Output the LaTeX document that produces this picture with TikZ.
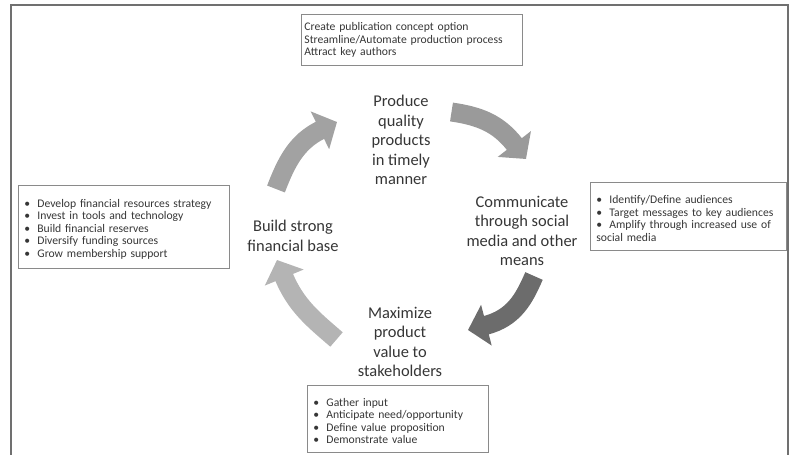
\documentclass[tikz,border=0pt]{standalone}
\usepackage{fontspec}
\setmainfont{Carlito}
\usepackage{tikz}
\usetikzlibrary{arrows.meta}
\definecolor{framegray}{HTML}{707070}
\definecolor{boxgray}{HTML}{8A8A8A}
\definecolor{inkgray}{HTML}{363636}
\definecolor{flowA}{HTML}{A2A2A2}
\definecolor{flowB}{HTML}{9A9A9A}
\definecolor{flowC}{HTML}{6C6C6C}
\definecolor{flowD}{HTML}{B4B4B4}
\hyphenpenalty=10000
\newcommand{\bul}[1]{\par\noindent\hangindent=13bp\hangafter=1\makebox[13bp][l]{\textbullet}#1}
\tikzset{
    strategy cycle/.style={
            x=1bp,y=-1bp,
            goal/.style={align=center,text=inkgray,font=\fontsize{16.5}{19.5}\selectfont},
            tasks/.style={draw=boxgray,line width=0.8bp,anchor=north west,align=left,
                    inner xsep=6bp,inner ysep=3bp,text=inkgray,font=\fontsize{11.7}{12.6}\selectfont},
            flow/.style={line width=19bp,-{Triangle[length=19bp,width=41bp]}},
            framing/.style={draw=framegray,line width=1.6bp}
        }
    }
\begin{document}
\begin{tikzpicture}[strategy cycle]
        \useasboundingbox (0,0) rectangle (793,455);
        % outer frame, open at the bottom
        \coordinate (f1) at (11,458);
        \coordinate (f2) at (788,5);
        \coordinate (f3) at (788,458);
        \draw [framing] (f1) |- (f2) -- (f3);

        \node [goal] (P) at (401,140) {Produce\\quality\\products\\in timely\\manner};
        \node [goal] (C) at (522,231) {Communicate\\through social\\media and other\\means};
        \node [goal] (M) at (400,342) {Maximize\\product\\value to\\stakeholders};
        \node [goal] (B) at (293,236) {Build strong\\financial base};

        \node [tasks, inner xsep=3bp, text width=215bp, minimum height=51bp] (Pt) at (301,14) {%
            Create publication concept option\\
            Streamline/Automate production process\\
            Attract key authors};
        \node [tasks, text width=184bp, minimum height=68bp] (Ct) at (590,182) {%
            \bul{Identify/Define audiences}
            \bul{Target messages to key audiences}
            \bul{Amplify through increased use of social media}};
        \node [tasks, text width=169bp, minimum height=67bp] (Mt) at (307,385) {%
            \bul{Gather input}
            \bul{Anticipate need/opportunity}
            \bul{Define value proposition}
            \bul{Demonstrate value}};
        \node [tasks, text width=199bp, minimum height=83bp] (Bt) at (18,185) {%
            \bul{Develop financial resources strategy}
            \bul{Invest in tools and technology}
            \bul{Build financial reserves}
            \bul{Diversify funding sources}
            \bul{Grow membership support}};

        % curved block arrows round the cycle
        \coordinate (a1) at (276,189);
        \coordinate (b1) at (337,122);
        \coordinate (a2) at (451.5,112);
        \coordinate (b2) at (526,159);
        \coordinate (a3) at (534,276);
        \coordinate (b3) at (468,330);
        \coordinate (a4) at (336.5,339.5);
        \coordinate (b4) at (277,260);
        \draw [flow, draw=flowA] (a1) .. controls (286,163) and (296,142) .. (b1);
        \draw [flow, draw=flowB] (a2) .. controls (479,116) and (498,123) .. (b2);
        \draw [flow, draw=flowC] (a3) .. controls (524,299) and (514,318) .. (b3);
        \draw [flow, draw=flowD] (a4) .. controls (314,320) and (296,306) .. (b4);
    \end{tikzpicture}
\end{document}
